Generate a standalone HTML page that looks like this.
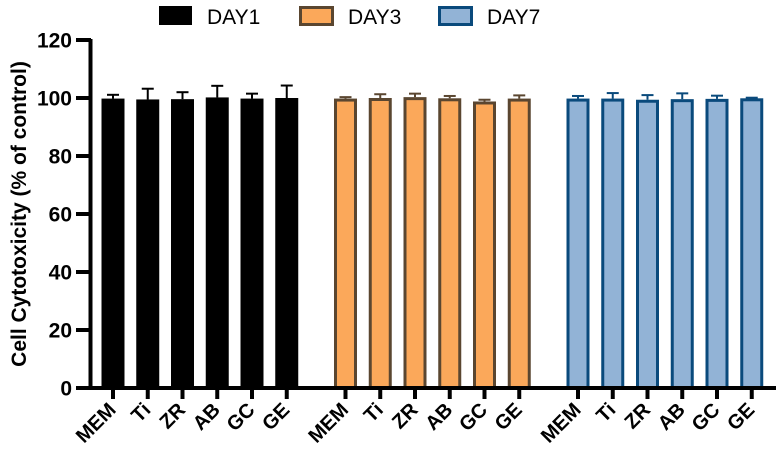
<!DOCTYPE html>
<html><head><meta charset="utf-8"><style>
html,body{margin:0;padding:0;background:#fff}
svg{display:block;font-family:"Liberation Sans",Arial,sans-serif}
</style></head><body>
<svg id="chart" width="782" height="460" viewBox="0 0 782 460">
<g id="legend">
  <g>
    <rect x="159" y="6" width="33" height="19" fill="#000"/>
    <text x="207" y="24" font-size="21" fill="#000">DAY1</text>
  </g>
  <g>
    <rect x="300.5" y="7.5" width="32" height="17" fill="#fba85a" stroke="#5a4630" stroke-width="3"/>
    <text x="348" y="24" font-size="21" fill="#000">DAY3</text>
  </g>
  <g>
    <rect x="439.5" y="7.5" width="32" height="17" fill="#92b3d6" stroke="#0a4a7c" stroke-width="3"/>
    <text x="487" y="24" font-size="21" fill="#000">DAY7</text>
  </g>
</g>
<text transform="translate(26,214) rotate(-90)" text-anchor="middle" font-size="21" font-weight="bold">Cell Cytotoxicity (% of control)</text>
<g id="plot"></g>
</svg>
<script>
const categories = ["MEM","Ti","ZR","AB","GC","GE"];
const groups = ["DAY1","DAY3","DAY7"];
const day1Values = [99.8,99.5,99.6,100.2,99.8,100.0];
const day1Errors = [1.3,3.7,2.4,4.0,1.7,4.3];
const day3Values = [99.8,100.0,100.3,99.9,98.8,99.8];
const day3Errors = [0.5,1.3,1.2,0.8,0.6,1.1];
const day7Values = [99.8,99.8,99.4,99.6,99.7,99.9];
const day7Errors = [0.9,1.9,1.6,2.0,1.1,0.2];
const yTicks = [0,20,40,60,80,100,120];

const NS="http://www.w3.org/2000/svg";
const plot=document.getElementById('plot');
const y0=388, yTop=40, yMax=120;
function y(v){return y0-(v/yMax)*(y0-yTop);}
const groupStart=[113,345.5,578], step=34.75;
function x(g,i){return groupStart[g]+i*step;}
function mk(tag,attrs){const e=document.createElementNS(NS,tag);for(const k in attrs)e.setAttribute(k,attrs[k]);plot.appendChild(e);return e;}

const series=[
 {vals:day1Values,errs:day1Errors,fill:"#000",stroke:"#000",sw:0},
 {vals:day3Values,errs:day3Errors,fill:"#fba85a",stroke:"#5a4630",sw:3},
 {vals:day7Values,errs:day7Errors,fill:"#92b3d6",stroke:"#0a4a7c",sw:3}
];
const bw=23;
series.forEach((s,g)=>{
  s.vals.forEach((v,i)=>{
    const cx=x(g,i);
    const top=y(v+s.errs[i]);
    const ec=g===0?"#000":s.stroke;
    const el=mk('line',{x1:cx,x2:cx,y1:y(v),y2:top,stroke:ec,'stroke-width':2});
    
    
    const cap=mk('line',{x1:cx-6,x2:cx+6,y1:top,y2:top,stroke:ec,'stroke-width':2});
    
    
    const h=s.sw/2;
    const r=mk('rect',{x:cx-bw/2+h,y:y(v)+h,width:bw-s.sw,height:y0-y(v)-h,fill:s.fill,stroke:s.sw?s.stroke:'none','stroke-width':s.sw});
    
    
    const t=mk('line',{x1:cx,x2:cx,y1:y0,y2:y0+11,stroke:'#000','stroke-width':4});
    
    
    const lb=mk('text',{transform:`translate(${cx+4},${y0+23}) rotate(-45)`,'text-anchor':'end','font-size':20,'font-weight':'bold'});
    lb.textContent=categories[i];
    
    
  });
});
const ya=mk('line',{x1:90.5,x2:90.5,y1:yTop-1,y2:y0+2,stroke:'#000','stroke-width':4});


const xa=mk('line',{x1:76,x2:776,y1:y0,y2:y0,stroke:'#000','stroke-width':4});


yTicks.forEach(v=>{
  const t=mk('line',{x1:76,x2:91,y1:y(v),y2:y(v),stroke:'#000','stroke-width':4});
  
  
  const l=mk('text',{x:72,y:y(v)+7.5,'text-anchor':'end','font-size':21,'font-weight':'bold'});
  l.textContent=v;
  
  
});
</script>
</body></html>
